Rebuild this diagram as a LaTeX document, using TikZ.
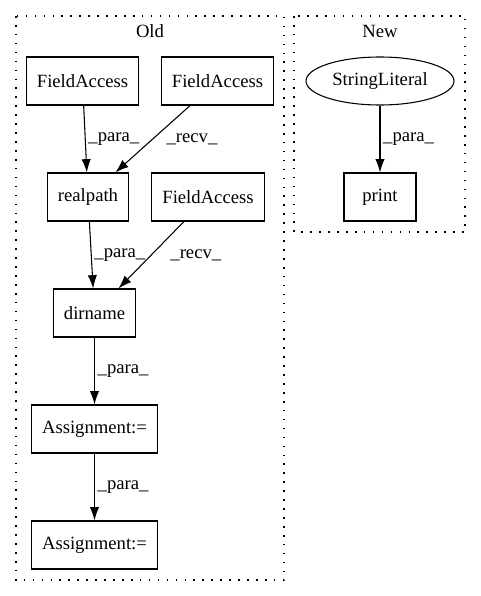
\documentclass[tikz,border=0pt]{standalone}
\usepackage{fontspec}
\setmainfont{Liberation Serif}
\usetikzlibrary{arrows.meta,shapes.geometric}

\begin{document}
\begin{tikzpicture}[x=0.75pt,y=-0.75pt,
  font=\fontsize{14}{16}\selectfont,
  op/.style={draw,line width=0.8pt,minimum height=36pt,minimum width=54pt,inner xsep=8pt},
  lit/.style={draw,ellipse,line width=0.8pt,minimum height=36pt,minimum width=111pt,inner sep=0pt},
  cluster/.style={draw,line width=1pt,dash pattern=on 1.2pt off 5.5pt},
  flow/.style={-{Latex[length=10pt,width=7pt]},line width=0.8pt},
  lbl/.style={anchor=west,inner sep=2pt}]
  \useasboundingbox (0,0) rectangle (481,596);
  % clusters
  \draw[cluster] (16,16) rectangle (284,580);
  \node (oldlbl) at (150,31) {Old};
  \draw[cluster] (294,16) rectangle (465,232);
  \node (newlbl) at (380,31) {New};
  % old
  \node[op] (fa1) at (82.5,81) {FieldAccess};
  \node[op] (fa2) at (217.5,81) {FieldAccess};
  \node[op] (realpath) at (88,197) {realpath};
  \node[op] (fa3) at (208,197) {FieldAccess};
  \node[op] (dirname) at (94.5,313) {dirname};
  \node[op] (assign1) at (94.5,429) {Assignment:=};
  \node[op] (assign2) at (94.5,545) {Assignment:=};
  \draw[flow] (fa1) -- node[lbl] {\_para\_} (realpath);
  \draw[flow] (fa2) -- node[lbl,xshift=8pt] {\_recv\_} (realpath);
  \draw[flow] (realpath) -- node[lbl] {\_para\_} (dirname);
  \draw[flow] (fa3) -- node[lbl,xshift=12pt] {\_recv\_} (dirname);
  \draw[flow] (dirname) -- node[lbl] {\_para\_} (assign1);
  \draw[flow] (assign1) -- node[lbl] {\_para\_} (assign2);
  % new
  \node[lit] (strlit) at (380,81) {StringLiteral};
  \node[op] (print) at (380,197) {print};
  \draw[flow] (strlit) -- node[lbl] {\_para\_} (print);
\end{tikzpicture}
\end{document}
